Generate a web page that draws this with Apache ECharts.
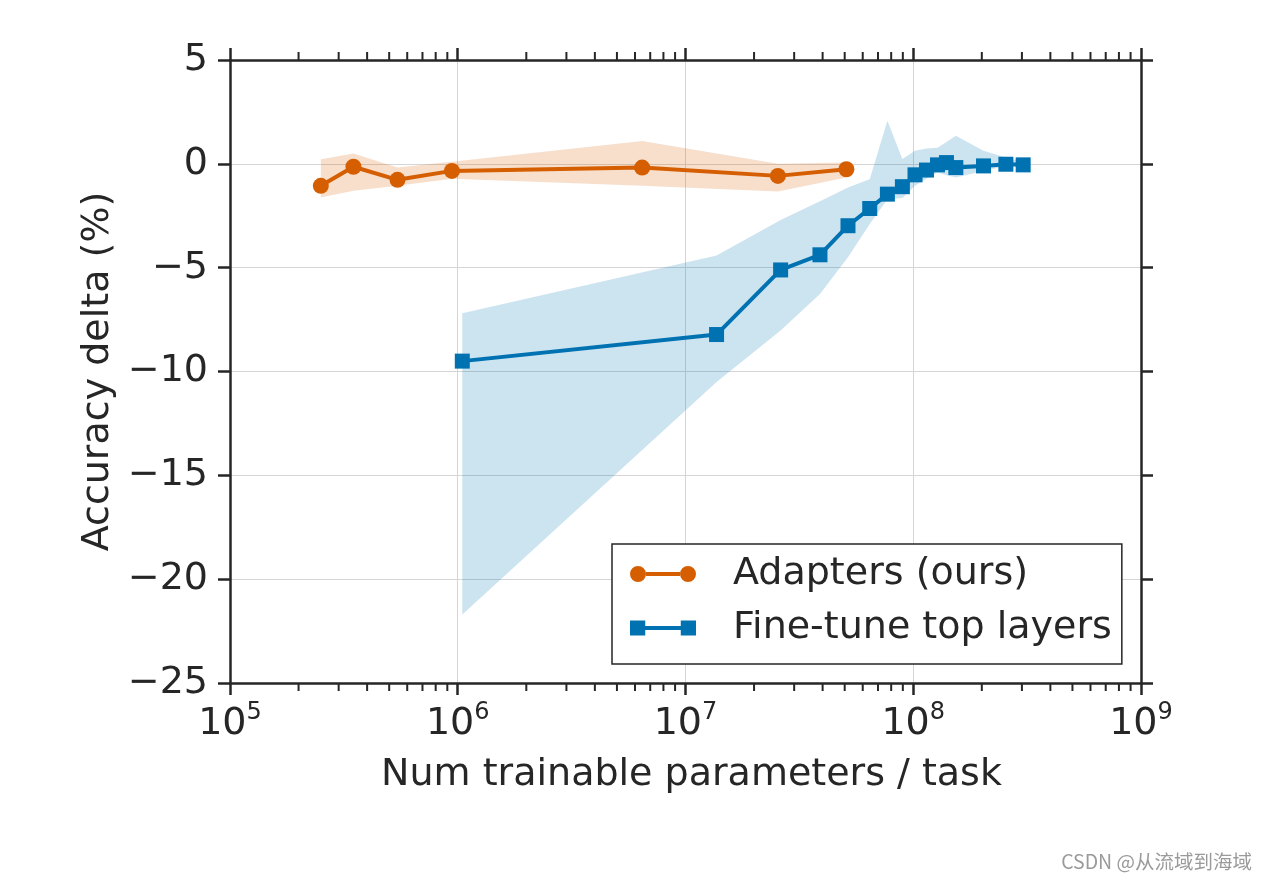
<!DOCTYPE html>
<html>
<head>
<meta charset="utf-8">
<script src="https://cdn.jsdelivr.net/npm/echarts@6/dist/echarts.min.js"></script>
<style>
html,body{margin:0;padding:0;background:#fff;}
#chart{width:1268px;height:880px;}
</style>
</head>
<body>
<div id="chart"></div>
<script>
// ---- data ----
const adaptersName = 'Adapters (ours)';
const finetuneName = 'Fine-tune top layers';

const xAdapters = [2.505e5, 3.483e5, 5.438e5, 9.43e5, 6.452e6, 2.545e7, 5.086e7];
const yAdapters = [-1.06, -0.14, -0.77, -0.34, -0.18, -0.58, -0.26];
const adaptersLow = [-1.62, -1.30, -1.06, -0.72, -1.06, -1.33, -0.66];
const adaptersHigh = [0.22, 0.50, -0.18, 0.10, 1.10, 0.00, 0.06];

const xFinetune = [1.047e6, 1.369e7, 2.616e7, 3.894e7, 5.169e7, 6.44e7, 7.70e7, 8.96e7, 1.018e8, 1.143e8, 1.278e8, 1.399e8, 1.538e8, 2.035e8, 2.551e8, 3.038e8];
const yFinetune = [-9.50, -8.22, -5.11, -4.38, -2.98, -2.15, -1.46, -1.10, -0.53, -0.30, -0.05, 0.06, -0.18, -0.10, -0.02, -0.05];
const finetuneLow = [-21.7, -10.5, -8.03, -6.27, -4.5, -2.9, -1.7, -1.65, -1.06, -0.72, -0.42, -0.55, -0.66, -0.34, -0.1, -0.1];
const finetuneHigh = [-7.2, -4.42, -2.7, -1.8, -1.14, -0.74, 2.07, 0.23, 0.63, 0.74, 0.77, 1.05, 1.35, 0.63, 0.3, 0.1];

const xTickValues = [1e5, 1e6, 1e7, 1e8, 1e9];
const xMinorTicks = [2e5,3e5,4e5,5e5,6e5,7e5,8e5,9e5,
                     2e6,3e6,4e6,5e6,6e6,7e6,8e6,9e6,
                     2e7,3e7,4e7,5e7,6e7,7e7,8e7,9e7,
                     2e8,3e8,4e8,5e8,6e8,7e8,8e8,9e8];
const yTickValues = [5, 0, -5, -10, -15, -20, -25];

// ---- style ----
const FONT = 'DejaVu Sans';
const INK = '#262626';
const ORANGE = '#d55e00';
const BLUE = '#0072b2';
const X_MIN = xTickValues[0], X_MAX = xTickValues[xTickValues.length - 1];
const Y_MIN = Math.min(...yTickValues), Y_MAX = Math.max(...yTickValues);
const AXIS_W = 2.5;

function bandSeries(xs, lo, hi, fill) {
  return {
    type: 'custom',
    silent: true,
    z: 1,
    data: xs.map((x, i) => [x, lo[i], hi[i]]),
    encode: {x: 0, y: [1, 2]},
    renderItem: function (params, api) {
      if (params.dataIndex !== 0) return null;
      const pts = [];
      for (let i = 0; i < xs.length; i++) pts.push(api.coord([xs[i], hi[i]]));
      for (let i = xs.length - 1; i >= 0; i--) pts.push(api.coord([xs[i], lo[i]]));
      return {type: 'polygon', shape: {points: pts}, style: {fill: fill}};
    }
  };
}

const circleIcon = 'path://M0,8A8,8 0 1,0 16,8A8,8 0 1,0 0,8Z M50,8A8,8 0 1,0 66,8A8,8 0 1,0 50,8Z M16,6L50,6L50,10L16,10Z';
const squareIcon = 'path://M0.5,0.5L15.5,0.5L15.5,15.5L0.5,15.5Z M50.5,0.5L65.5,0.5L65.5,15.5L50.5,15.5Z M15.5,6L50.5,6L50.5,10L15.5,10Z';

const chart = echarts.init(document.getElementById('chart'), null, {renderer: 'canvas'});
const option = {
  backgroundColor: '#ffffff',
  animation: false,
  textStyle: {fontFamily: FONT, color: INK},
  grid: {left: 230, top: 60, right: 127, bottom: 197, containLabel: false},
  legend: {
    orient: 'vertical',
    left: 612, top: 544,
    backgroundColor: '#ffffff',
    borderColor: INK, borderWidth: 1.5, borderRadius: 0,
    padding: [8, 10, 14, 18],
    itemWidth: 66, itemHeight: 16, itemGap: 10,
    selectedMode: false,
    textStyle: {fontFamily: FONT, fontSize: 38, color: INK, lineHeight: 44, padding: [0, 0, 0, 32]},
    data: [
      {name: adaptersName, icon: circleIcon},
      {name: finetuneName, icon: squareIcon}
    ]
  },
  xAxis: [{
    type: 'log', logBase: 10, min: X_MIN, max: X_MAX,
    position: 'bottom',
    name: 'Num trainable parameters / task',
    nameLocation: 'middle', nameGap: 73,
    nameTextStyle: {fontFamily: FONT, fontSize: 38, color: INK, padding: [0, 0, 0, 12]},
    axisLine: {show: true, onZero: false, lineStyle: {color: INK, width: AXIS_W}},
    axisTick: {show: true, inside: false, length: 12, lineStyle: {color: INK, width: AXIS_W}},
    axisLabel: {
      margin: 18,
      formatter: function (v) {
        const e = Math.round(Math.log10(v));
        return '{b|10}{s|' + e + '}';
      },
      rich: {
        b: {fontFamily: FONT, fontSize: 38, color: INK, lineHeight: 46},
        s: {fontFamily: FONT, fontSize: 24, color: INK, verticalAlign: 'top', lineHeight: 24}
      }
    },
    splitLine: {show: true, lineStyle: {color: '#d5d5d5', width: 1}},
    minorTick: {show: false}
  }, {
    type: 'log', logBase: 10, min: X_MIN, max: X_MAX,
    position: 'top',
    axisLine: {show: true, onZero: false, lineStyle: {color: INK, width: AXIS_W}},
    axisTick: {show: true, inside: false, length: 12, lineStyle: {color: INK, width: AXIS_W}},
    axisLabel: {show: false},
    splitLine: {show: false}
  }],
  yAxis: [{
    type: 'value', min: Y_MIN, max: Y_MAX, interval: 5,
    position: 'left',
    name: 'Accuracy delta (%)',
    nameLocation: 'middle', nameGap: 112,
    nameTextStyle: {fontFamily: FONT, fontSize: 38, color: INK},
    axisLine: {show: true, onZero: false, lineStyle: {color: INK, width: AXIS_W}},
    axisTick: {show: true, inside: false, length: 12, lineStyle: {color: INK, width: AXIS_W}},
    axisLabel: {
      margin: 22, fontFamily: FONT, fontSize: 38, color: INK,
      formatter: function (v) { return String(v).replace('-', '\u2212'); }
    },
    splitLine: {show: true, lineStyle: {color: '#d5d5d5', width: 1}}
  }, {
    type: 'value', min: Y_MIN, max: Y_MAX, interval: 5,
    position: 'right',
    axisLine: {show: true, onZero: false, lineStyle: {color: INK, width: AXIS_W}},
    axisTick: {show: true, inside: false, length: 12, lineStyle: {color: INK, width: AXIS_W}},
    axisLabel: {show: false},
    splitLine: {show: false}
  }],
  series: [
    bandSeries(xAdapters, adaptersLow, adaptersHigh, 'rgba(213,94,0,0.2)'),
    bandSeries(xFinetune, finetuneLow, finetuneHigh, 'rgba(0,114,178,0.2)'),
    {
      type: 'custom',
      silent: true,
      z: 5,
      data: xMinorTicks.map(v => [v, 0]),
      encode: {x: 0, y: 1},
      renderItem: function (params, api) {
        const x = api.value(0);
        const b = api.coord([x, Y_MIN]);
        const t = api.coord([x, Y_MAX]);
        const st = {stroke: INK, lineWidth: 2};
        return {type: 'group', children: [
          {type: 'line', shape: {x1: b[0], y1: b[1], x2: b[0], y2: b[1] + 8}, style: st},
          {type: 'line', shape: {x1: t[0], y1: t[1], x2: t[0], y2: t[1] - 8}, style: st}
        ]};
      }
    },
    {
      name: adaptersName,
      type: 'line',
      z: 3,
      data: xAdapters.map((x, i) => [x, yAdapters[i]]),
      symbol: 'circle', symbolSize: 16,
      lineStyle: {color: ORANGE, width: 4},
      itemStyle: {color: ORANGE},
      color: ORANGE
    },
    {
      name: finetuneName,
      type: 'line',
      z: 3,
      data: xFinetune.map((x, i) => [x, yFinetune[i]]),
      symbol: 'rect', symbolSize: 15,
      lineStyle: {color: BLUE, width: 4},
      itemStyle: {color: BLUE},
      color: BLUE
    }
  ],
  graphic: [{
    type: 'text',
    right: 16, bottom: 9,
    style: {text: 'CSDN @从流域到海域', fontFamily: 'Noto Sans CJK SC', fontSize: 19.5, fill: '#9a9a9a'}
  }]
};
chart.setOption(option);
</script>
</body>
</html>
